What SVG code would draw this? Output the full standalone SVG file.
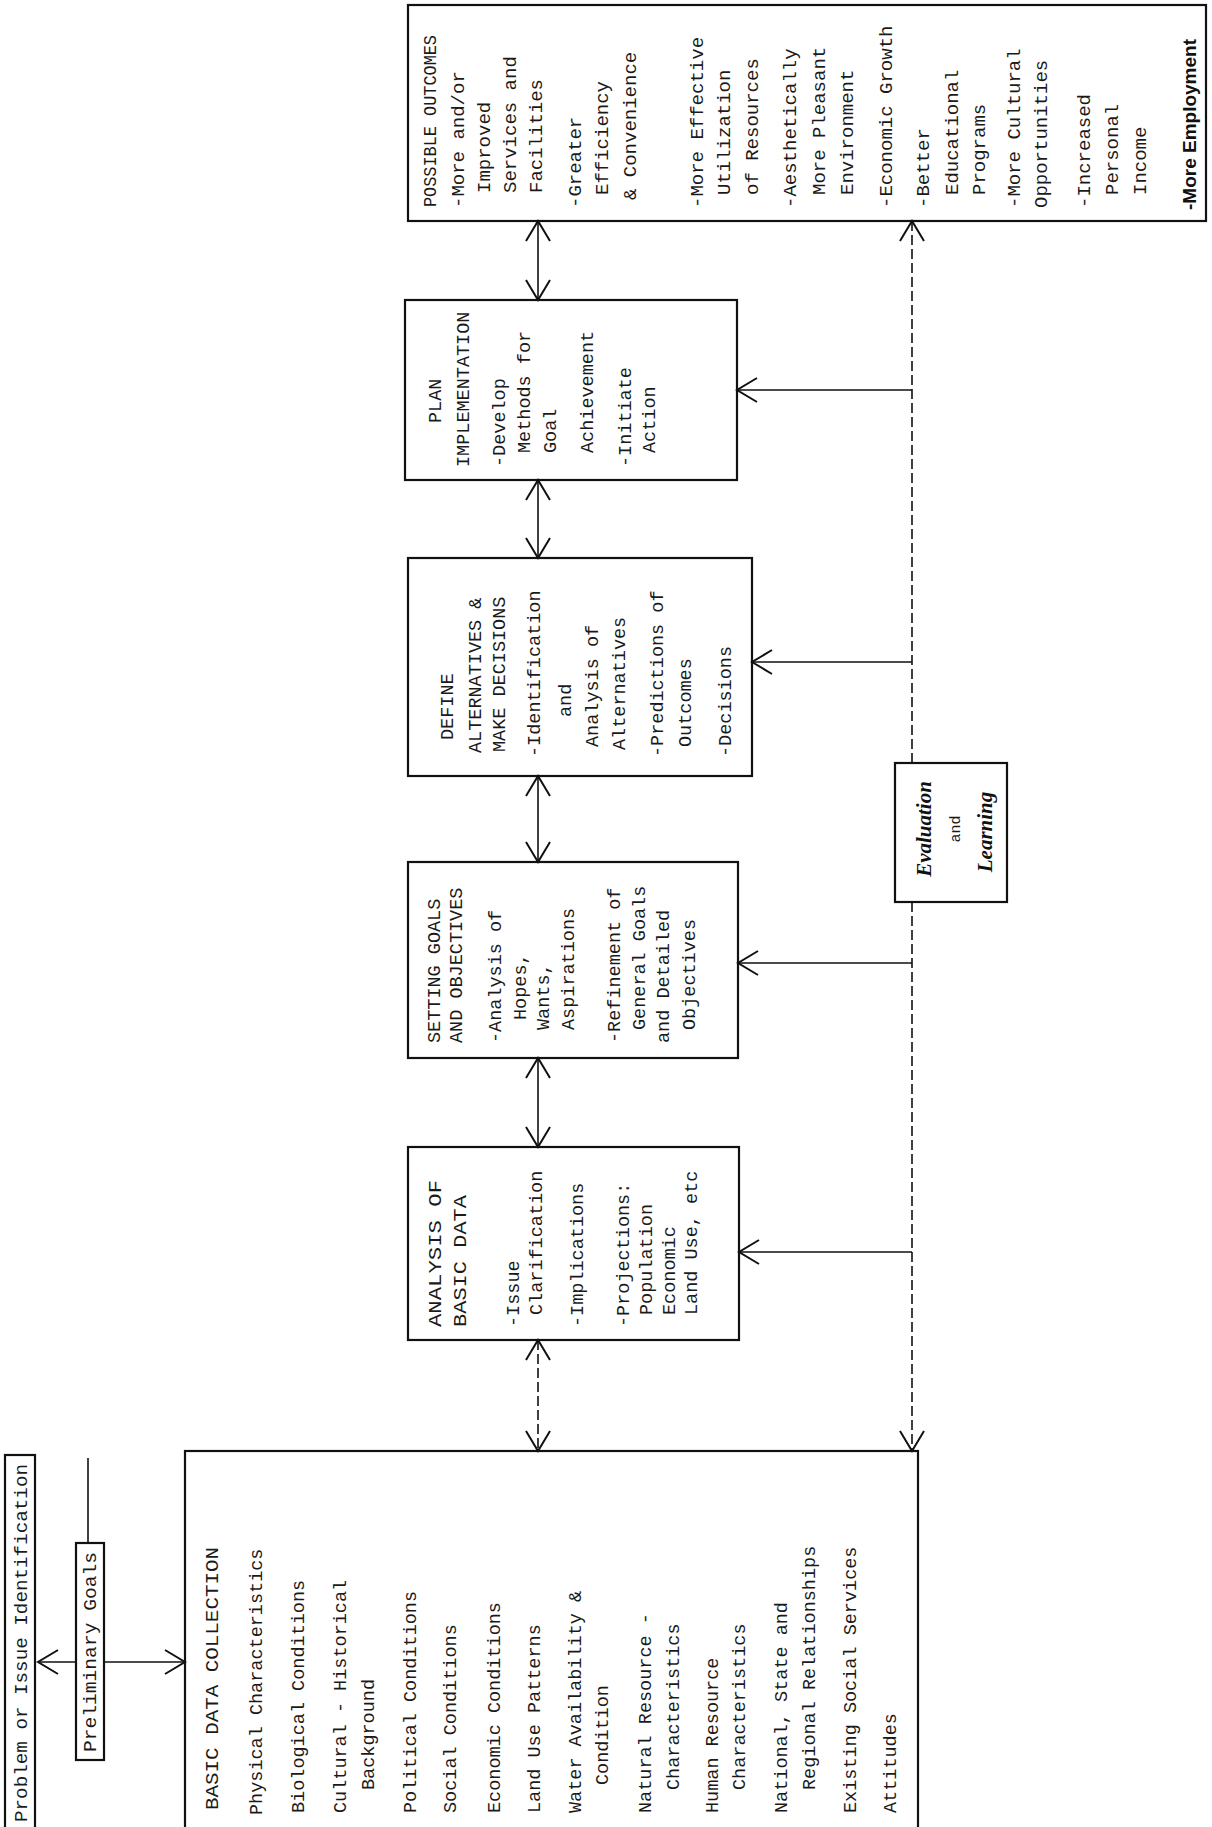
<svg xmlns="http://www.w3.org/2000/svg" width="1212" height="1827" viewBox="0 0 1212 1827">
<style>
.bx{fill:none;stroke:#111;stroke-width:2.2}
.t{font-family:"Liberation Mono","Courier New",monospace;font-size:18.5px;fill:#1a1a1a}
.o{font-family:"Liberation Mono","Courier New",monospace;font-size:19px;fill:#1a1a1a}
.bd{font-family:"Liberation Sans",Arial,sans-serif;font-weight:bold;font-size:19px;fill:#111}
.ev{font-family:"Liberation Serif","Times New Roman",serif;font-style:italic;font-weight:bold;font-size:21px;fill:#111}
.ln{fill:none;stroke:#111;stroke-width:1.6}
.dsh{stroke-dasharray:10 4}
</style>
<defs>
<marker id="ah" markerUnits="userSpaceOnUse" viewBox="0 0 24 26" markerWidth="24" markerHeight="26" refX="22" refY="13" orient="auto-start-reverse">
<path d="M2,1 L22,13 L2,25" fill="none" stroke="#111" stroke-width="2"/>
</marker>
</defs>
<rect width="1212" height="1827" fill="#fff"/>

<g id="connectors">
<line class="ln" x1="538" y1="221" x2="538" y2="300" marker-start="url(#ah)" marker-end="url(#ah)"/>
<line class="ln" x1="538" y1="480" x2="538" y2="558" marker-start="url(#ah)" marker-end="url(#ah)"/>
<line class="ln" x1="538" y1="776" x2="538" y2="862" marker-start="url(#ah)" marker-end="url(#ah)"/>
<line class="ln" x1="538" y1="1058" x2="538" y2="1147" marker-start="url(#ah)" marker-end="url(#ah)"/>
<line class="ln dsh" x1="538" y1="1340" x2="538" y2="1451" marker-start="url(#ah)" marker-end="url(#ah)"/>
<line class="ln dsh" x1="912" y1="221" x2="912" y2="763" marker-start="url(#ah)"/>
<line class="ln dsh" x1="912" y1="902" x2="912" y2="1451" marker-end="url(#ah)"/>
<line class="ln" x1="912" y1="390" x2="737" y2="390" marker-end="url(#ah)"/>
<line class="ln" x1="912" y1="662" x2="752" y2="662" marker-end="url(#ah)"/>
<line class="ln" x1="912" y1="963" x2="738" y2="963" marker-end="url(#ah)"/>
<line class="ln" x1="912" y1="1252" x2="739" y2="1252" marker-end="url(#ah)"/>
<line class="ln" x1="88" y1="1458" x2="88" y2="1543"/>
<line class="ln" x1="76" y1="1662" x2="38" y2="1662" marker-end="url(#ah)"/>
<line class="ln" x1="104" y1="1662" x2="185" y2="1662" marker-end="url(#ah)"/>
</g>

<g id="problem">
<rect class="bx" x="5" y="1455" width="30" height="380"/>
<text class="o" transform="translate(27,1822) rotate(-90)" textLength="358" lengthAdjust="spacingAndGlyphs">Problem or Issue Identification</text>
</g>

<g id="preliminary-goals">
<rect class="bx" x="76" y="1543" width="28" height="217"/>
<text class="o" transform="translate(96,1752) rotate(-90)" textLength="200" lengthAdjust="spacingAndGlyphs">Preliminary Goals</text>
</g>

<g id="basic-data">
<rect class="bx" x="185" y="1451" width="733" height="380"/>
<text class="t" transform="translate(218,1810) rotate(-90)" textLength="263" lengthAdjust="spacingAndGlyphs">BASIC DATA COLLECTION</text>
<text class="t" transform="translate(262,1815) rotate(-90)">Physical Characteristics</text>
<text class="t" transform="translate(304,1813) rotate(-90)">Biological Conditions</text>
<text class="t" transform="translate(346,1813) rotate(-90)">Cultural - Historical</text>
<text class="t" transform="translate(374,1790) rotate(-90)">Background</text>
<text class="t" transform="translate(416,1813) rotate(-90)">Political Conditions</text>
<text class="t" transform="translate(456,1813) rotate(-90)">Social Conditions</text>
<text class="t" transform="translate(500,1813) rotate(-90)">Economic Conditions</text>
<text class="t" transform="translate(540,1813) rotate(-90)">Land Use Patterns</text>
<text class="t" transform="translate(581,1813) rotate(-90)">Water Availability &amp;</text>
<text class="t" transform="translate(608,1785) rotate(-90)">Condition</text>
<text class="t" transform="translate(651,1813) rotate(-90)">Natural Resource -</text>
<text class="t" transform="translate(679,1790) rotate(-90)">Characteristics</text>
<text class="t" transform="translate(718,1813) rotate(-90)">Human Resource</text>
<text class="t" transform="translate(745,1790) rotate(-90)">Characteristics</text>
<text class="t" transform="translate(787,1813) rotate(-90)">National, State and</text>
<text class="t" transform="translate(815,1790) rotate(-90)">Regional Relationships</text>
<text class="t" transform="translate(856,1813) rotate(-90)">Existing Social Services</text>
<text class="t" transform="translate(896,1813) rotate(-90)">Attitudes</text>
</g>

<g id="analysis">
<rect class="bx" x="408" y="1147" width="331" height="193"/>
<text class="t" transform="translate(441,1327) rotate(-90)" textLength="147" lengthAdjust="spacingAndGlyphs">ANALYSIS OF</text>
<text class="t" transform="translate(466,1327) rotate(-90)" textLength="132" lengthAdjust="spacingAndGlyphs">BASIC DATA</text>
<text class="t" transform="translate(519,1327) rotate(-90)">-Issue</text>
<text class="t" transform="translate(542,1315) rotate(-90)">Clarification</text>
<text class="t" transform="translate(583,1327) rotate(-90)">-Implications</text>
<text class="t" transform="translate(629,1327) rotate(-90)">-Projections:</text>
<text class="t" transform="translate(652,1315) rotate(-90)">Population</text>
<text class="t" transform="translate(675,1315) rotate(-90)">Economic</text>
<text class="t" transform="translate(697,1315) rotate(-90)">Land Use, etc</text>
</g>

<g id="setting-goals">
<rect class="bx" x="408" y="862" width="330" height="196"/>
<text class="t" transform="translate(440,1043) rotate(-90)">SETTING GOALS</text>
<text class="t" transform="translate(462,1043) rotate(-90)">AND OBJECTIVES</text>
<text class="t" transform="translate(501,1043) rotate(-90)">-Analysis of</text>
<text class="t" transform="translate(526,1020) rotate(-90)">Hopes,</text>
<text class="t" transform="translate(549,1030) rotate(-90)">Wants,</text>
<text class="t" transform="translate(574,1030) rotate(-90)">Aspirations</text>
<text class="t" transform="translate(620,1043) rotate(-90)">-Refinement of</text>
<text class="t" transform="translate(645,1030) rotate(-90)">General Goals</text>
<text class="t" transform="translate(669,1043) rotate(-90)">and Detailed</text>
<text class="t" transform="translate(695,1030) rotate(-90)">Objectives</text>
</g>

<g id="define-alternatives">
<rect class="bx" x="408" y="558" width="344" height="218"/>
<text class="t" transform="translate(453,740) rotate(-90)">DEFINE</text>
<text class="t" transform="translate(481,753) rotate(-90)">ALTERNATIVES &amp;</text>
<text class="t" transform="translate(505,752) rotate(-90)">MAKE DECISIONS</text>
<text class="t" transform="translate(540,757) rotate(-90)">-Identification</text>
<text class="t" transform="translate(571,717) rotate(-90)">and</text>
<text class="t" transform="translate(598,747) rotate(-90)">Analysis of</text>
<text class="t" transform="translate(625,750) rotate(-90)">Alternatives</text>
<text class="t" transform="translate(663,757) rotate(-90)">-Predictions of</text>
<text class="t" transform="translate(691,747) rotate(-90)">Outcomes</text>
<text class="t" transform="translate(731,757) rotate(-90)">-Decisions</text>
</g>

<g id="plan-implementation">
<rect class="bx" x="405" y="300" width="332" height="180"/>
<text class="t" transform="translate(441,423) rotate(-90)">PLAN</text>
<text class="t" transform="translate(469,467) rotate(-90)">IMPLEMENTATION</text>
<text class="t" transform="translate(505,467) rotate(-90)">-Develop</text>
<text class="t" transform="translate(530,453) rotate(-90)">Methods for</text>
<text class="t" transform="translate(556,453) rotate(-90)">Goal</text>
<text class="t" transform="translate(593,453) rotate(-90)">Achievement</text>
<text class="t" transform="translate(631,467) rotate(-90)">-Initiate</text>
<text class="t" transform="translate(655,453) rotate(-90)">Action</text>
</g>

<g id="possible-outcomes">
<rect class="bx" x="408" y="5" width="798" height="216"/>
<text class="o" transform="translate(436,207) rotate(-90)" textLength="172" lengthAdjust="spacingAndGlyphs">POSSIBLE OUTCOMES</text>
<text class="o" transform="translate(464,208) rotate(-90)">-More and/or</text>
<text class="o" transform="translate(490,193) rotate(-90)">Improved</text>
<text class="o" transform="translate(516,193) rotate(-90)">Services and</text>
<text class="o" transform="translate(542,193) rotate(-90)">Facilities</text>
<text class="o" transform="translate(581,208) rotate(-90)">-Greater</text>
<text class="o" transform="translate(608,195) rotate(-90)">Efficiency</text>
<text class="o" transform="translate(636,200) rotate(-90)">&amp; Convenience</text>
<text class="o" transform="translate(703,208) rotate(-90)">-More Effective</text>
<text class="o" transform="translate(730,195) rotate(-90)">Utilization</text>
<text class="o" transform="translate(758,195) rotate(-90)">of Resources</text>
<text class="o" transform="translate(796,208) rotate(-90)">-Aesthetically</text>
<text class="o" transform="translate(825,195) rotate(-90)">More Pleasant</text>
<text class="o" transform="translate(853,195) rotate(-90)">Environment</text>
<text class="o" transform="translate(892,208) rotate(-90)">-Economic Growth</text>
<text class="o" transform="translate(929,208) rotate(-90)">-Better</text>
<text class="o" transform="translate(958,195) rotate(-90)">Educational</text>
<text class="o" transform="translate(985,195) rotate(-90)">Programs</text>
<text class="o" transform="translate(1020,208) rotate(-90)">-More Cultural</text>
<text class="o" transform="translate(1047,208) rotate(-90)">Opportunities</text>
<text class="o" transform="translate(1090,208) rotate(-90)">-Increased</text>
<text class="o" transform="translate(1118,195) rotate(-90)">Personal</text>
<text class="o" transform="translate(1146,195) rotate(-90)">Income</text>
<text class="bd" transform="translate(1196,210) rotate(-90)">-More Employment</text>
</g>

<g id="evaluation">
<rect class="bx" x="895" y="763" width="112" height="139"/>
<text class="ev" text-anchor="middle" transform="translate(931,829) rotate(-90)">Evaluation</text>
<text class="o" text-anchor="middle" style="font-size:15px" transform="translate(960,829) rotate(-90)">and</text>
<text class="ev" text-anchor="middle" transform="translate(992,832) rotate(-90)">Learning</text>
</g>
</svg>
